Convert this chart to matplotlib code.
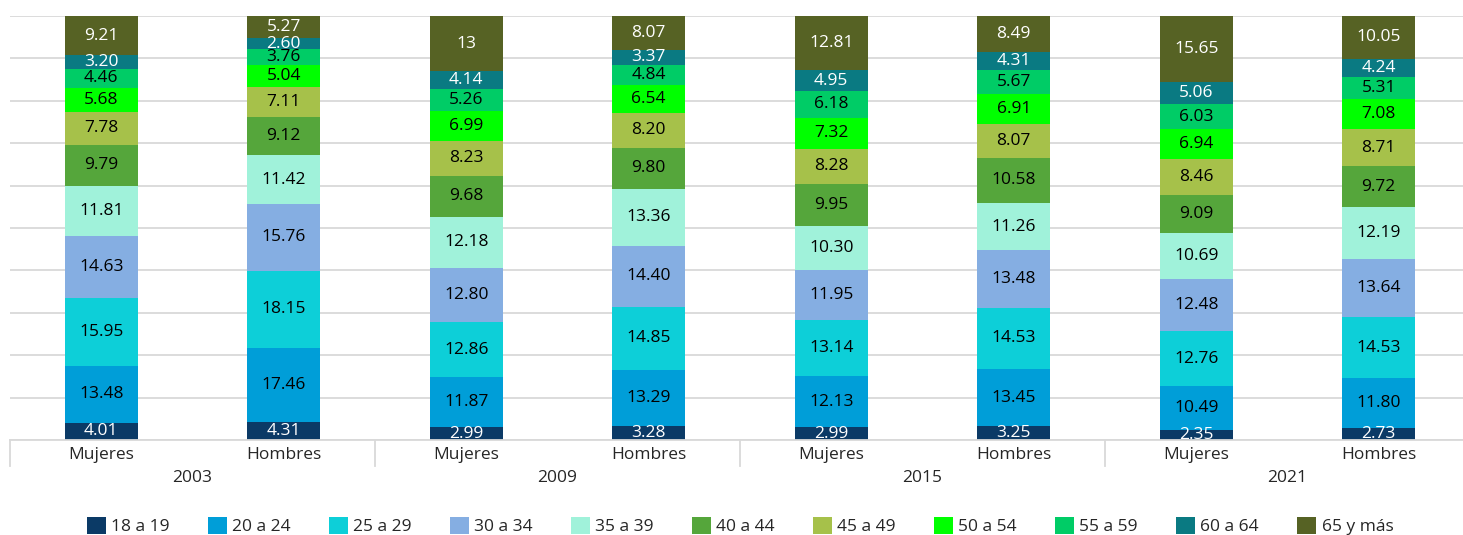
import matplotlib
matplotlib.use("Agg")
import matplotlib.pyplot as plt
from matplotlib.patches import Patch
import matplotlib.transforms as mtransforms
import numpy as np

plt.rcParams['font.family'] = ['Open Sans', 'DejaVu Sans']

years = ["2003", "2009", "2015", "2021"]
sexes = ["Mujeres", "Hombres"]
age_groups = ["18 a 19", "20 a 24", "25 a 29", "30 a 34", "35 a 39", "40 a 44",
              "45 a 49", "50 a 54", "55 a 59", "60 a 64", "65 y más"]

# one list per bar (year, sex), values per age group (bottom to top)
m2003 = [4.01, 13.48, 15.95, 14.63, 11.81, 9.79, 7.78, 5.68, 4.46, 3.20, 9.21]
h2003 = [4.31, 17.46, 18.15, 15.76, 11.42, 9.12, 7.11, 5.04, 3.76, 2.60, 5.27]
m2009 = [2.99, 11.87, 12.86, 12.80, 12.18, 9.68, 8.23, 6.99, 5.26, 4.14, 13]
h2009 = [3.28, 13.29, 14.85, 14.40, 13.36, 9.80, 8.20, 6.54, 4.84, 3.37, 8.07]
m2015 = [2.99, 12.13, 13.14, 11.95, 10.30, 9.95, 8.28, 7.32, 6.18, 4.95, 12.81]
h2015 = [3.25, 13.45, 14.53, 13.48, 11.26, 10.58, 8.07, 6.91, 5.67, 4.31, 8.49]
m2021 = [2.35, 10.49, 12.76, 12.48, 10.69, 9.09, 8.46, 6.94, 6.03, 5.06, 15.65]
h2021 = [2.73, 11.80, 14.53, 13.64, 12.19, 9.72, 8.71, 7.08, 5.31, 4.24, 10.05]

bars = [m2003, h2003, m2009, h2009, m2015, h2015, m2021, h2021]

colors = ["#0B3A66", "#009ED8", "#0DCFD8", "#85AEE2", "#A0F2DA", "#55A63B",
          "#A6C14A", "#00FF00", "#00CC66", "#0A7A82", "#566224"]
text_colors = ["white", "black", "black", "black", "black", "black",
               "black", "black", "black", "white", "white"]

W, H = 1463, 535
fig = plt.figure(figsize=(W / 100, H / 100), dpi=100)
ax = fig.add_axes([10 / W, 95 / H, 1460 / W, 424 / H])

data = np.array(bars)  # shape (8, 11)
x = np.arange(len(bars))
bottom = np.zeros(len(bars))
for j, lab in enumerate(age_groups):
    vals = data[:, j]
    ax.bar(x, vals, bottom=bottom, width=0.4, color=colors[j], zorder=3, label=lab)
    for i in range(len(bars)):
        v = vals[i]
        s = str(int(v)) if float(v).is_integer() else f"{v:.2f}"
        ax.text(x[i], bottom[i] + v / 2, s, ha="center", va="center",
                fontsize=12.5, color=text_colors[j], zorder=4)
    bottom += vals

ax.set_xlim(-0.5, len(bars) - 0.5)
ax.set_ylim(0, 100)
ax.set_yticks(np.arange(0, 101, 10))
ax.yaxis.grid(True, color="#D9D9D9", linewidth=1.3, zorder=0)
ax.tick_params(left=False, labelleft=False, bottom=False, labelbottom=False)
for s in ["left", "right", "top"]:
    ax.spines[s].set_visible(False)
ax.spines["bottom"].set_color("#D9D9D9")
ax.spines["bottom"].set_linewidth(1.3)
ax.spines["bottom"].set_zorder(5)

trans = mtransforms.blended_transform_factory(ax.transData, ax.transAxes)
for i in range(len(bars)):
    ax.text(x[i], -15 / 424, sexes[i % 2], transform=trans, ha="center", va="center",
            fontsize=12.5, color="#262626")
for k, yr in enumerate(years):
    ax.text(2 * k + 0.5, -38 / 424, yr, transform=trans, ha="center", va="center",
            fontsize=12.5, color="#262626")
for k in range(len(years) + 1):
    ax.plot([2 * k - 0.5, 2 * k - 0.5], [0, -26 / 424], transform=trans,
            color="#D9D9D9", linewidth=1.3, clip_on=False)

handles = [Patch(facecolor=c, edgecolor="none") for c in colors]
fig.legend(handles, age_groups, loc="center", bbox_to_anchor=(740 / W, 9 / H),
           ncol=len(age_groups), frameon=False, fontsize=12.5, handlelength=1.1,
           handleheight=1.2, handletextpad=0.3, columnspacing=2.2,
           labelcolor="#262626")

fig.savefig("out.png", dpi=100)
